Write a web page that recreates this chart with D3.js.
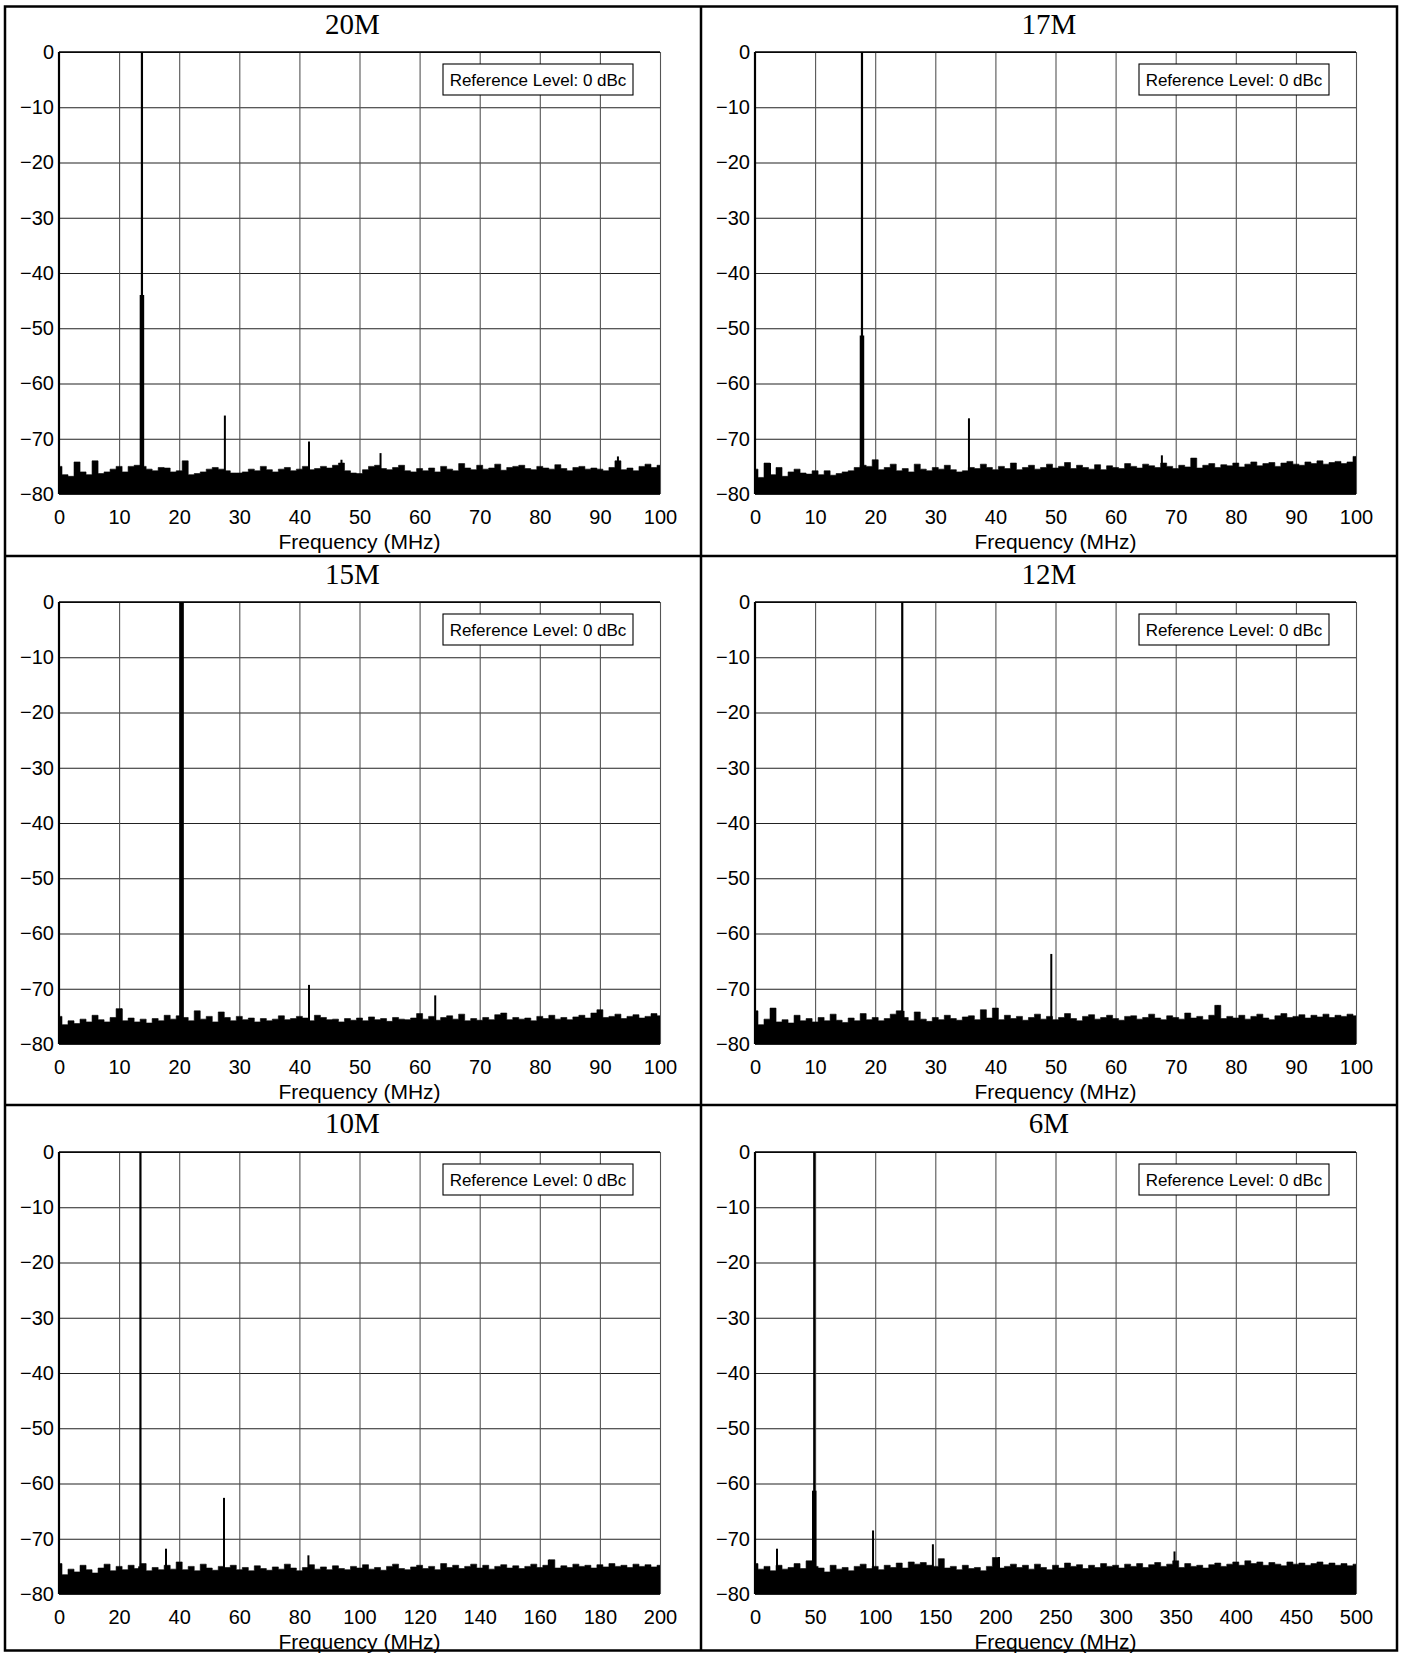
<!DOCTYPE html>
<html><head><meta charset="utf-8">
<script src="https://cdn.jsdelivr.net/npm/d3@7"></script>
<style>body{margin:0;background:#fff}svg{display:block}</style>
</head><body><svg id="c" width="1403" height="1656"></svg>
<script>
// ---------------- data ----------------
const titles = ["20M", "17M", "15M", "12M", "10M", "6M"];
const freqMax = [100, 100, 100, 100, 200, 500];
const freqTickStep = [10, 10, 10, 10, 20, 50];
const dbTicks = [0, -10, -20, -30, -40, -50, -60, -70, -80];
const noiseBinMHz = [1, 1, 1, 1, 2, 5];
const legendText = "Reference Level: 0 dBc";
const axisTitle = "Frequency (MHz)";

// noise-floor envelope (dBc), one value per bin
const noise20M = [-75,-76.5,-76.8,-74.2,-76,-76.5,-74,-76.3,-76,-75.5,-75,-76,-75,-74.8,-75,-75.5,-75.8,-75.2,-75.3,-76,-75.8,-74,-76.5,-76.3,-76,-75.5,-75.2,-75.5,-75.8,-76.2,-76.2,-76,-75.5,-75.8,-75,-75.6,-76,-75.5,-75.2,-75.8,-75.5,-75,-75.6,-75.4,-75,-75.3,-74.8,-74.4,-75.8,-76.2,-76.3,-75.6,-75,-74.8,-75.4,-75.6,-75.2,-74.8,-75.8,-76,-75.4,-75.8,-75.3,-76,-75,-75.5,-75.8,-74.5,-75.3,-75.6,-74.8,-75.5,-75.3,-74.6,-75.7,-75.2,-75,-74.8,-75.4,-75.6,-75,-75.3,-75.5,-74.7,-75.4,-75.8,-75.2,-75,-75.5,-75.3,-75.5,-75.8,-75.2,-74,-75.6,-75.3,-75.8,-75,-74.6,-75.2,-74.8];
const noise17M = [-75.5,-77,-74.4,-76.5,-75.2,-76.8,-76,-75.5,-76.2,-76.4,-75.8,-76.5,-75.8,-76.6,-76.3,-76,-75.8,-75.2,-74.8,-75,-73.8,-75.6,-75.2,-74.6,-75.8,-75.4,-76,-74.6,-75.5,-75.8,-75.2,-75.5,-74.8,-75.6,-76,-75.8,-75.2,-75.4,-74.6,-75.2,-75.6,-75,-75.4,-74.4,-75.6,-75.2,-74.8,-75.5,-75.2,-74.6,-75.3,-75,-74.3,-75.4,-74.8,-75.2,-75.5,-74.7,-75.6,-74.9,-75.2,-75.4,-74.5,-75,-75.3,-74.6,-74.9,-75.2,-74.4,-75,-75.4,-74.8,-75.1,-73.5,-75.3,-74.8,-74.5,-75.2,-74.7,-74.9,-74.4,-75.1,-74.6,-74.2,-74.9,-74.5,-74.3,-75,-74.4,-74.1,-74.6,-74.8,-74.2,-74.5,-74,-74.6,-74.3,-74.1,-74.5,-74.2,-73.2];
const noise15M = [-75,-76.5,-75.8,-76.3,-75.5,-76,-74.8,-75.6,-76,-75.2,-73.6,-75.8,-75.3,-76,-75.5,-76.2,-75.4,-75.8,-74.8,-75.5,-74.9,-75.2,-75.8,-74,-75.5,-75,-76,-74.2,-75.2,-75.8,-75,-75.6,-75.3,-76,-75.4,-75.8,-75.5,-74.9,-75.6,-75.4,-75,-75.3,-75.8,-74.8,-75.2,-75.6,-75.5,-76,-75.4,-75.7,-75.3,-75.8,-75.1,-75.6,-75.4,-75.9,-75.2,-75.5,-75.6,-75.3,-74.5,-75.5,-75,-75.7,-75.2,-74.9,-75.5,-74.6,-75.8,-75.4,-75.7,-75.2,-75.6,-74.7,-74.4,-75.6,-75.2,-75.5,-75.3,-75.8,-75,-75.4,-74.8,-75.5,-75.2,-75.6,-75.1,-74.8,-75.3,-74.4,-73.8,-75.2,-75,-74.6,-75.4,-75,-74.7,-75.3,-75,-74.5,-74.9];
const noise12M = [-74,-76.5,-75.5,-73.5,-76,-75.6,-76.2,-74.8,-75.8,-75.4,-76,-75.2,-75.8,-74.6,-75.7,-76.1,-75.3,-75.8,-74.5,-75.6,-75.2,-75.8,-75.4,-74.6,-74,-75.2,-75.8,-74.2,-75.5,-75.9,-75.2,-75.6,-74.8,-75.4,-75.7,-75.1,-74.9,-75.6,-73.8,-75.3,-73.5,-75.6,-74.8,-75.4,-75,-75.7,-75.2,-74.6,-75.5,-75,-75.6,-75.2,-74.5,-75.4,-75.8,-75,-74.7,-75.5,-75.2,-74.8,-75.4,-75.7,-75,-74.9,-75.5,-75.2,-74.6,-75.3,-75.6,-74.9,-75.2,-75.5,-74.4,-75.3,-75,-75.6,-74.8,-73,-75.4,-75,-75.3,-74.8,-75.5,-75,-74.6,-75.3,-75.6,-74.9,-74.5,-75.2,-75,-74.7,-75.3,-74.8,-75.1,-74.6,-75.2,-74.8,-75,-74.6,-74.9];
const noise10M = [-74.5,-76.5,-75.5,-76,-74.8,-75.6,-76.2,-75.3,-74.6,-75.8,-75,-75.6,-74.8,-75.4,-74.5,-75.8,-75.2,-75.6,-74.8,-75.5,-74.2,-75.6,-75,-75.8,-74.6,-75.3,-75.7,-75,-75.2,-74.8,-75.6,-75.2,-75.8,-74.9,-75.4,-75.7,-75.1,-75.5,-74.6,-75.3,-75.8,-75.2,-74.7,-75.5,-75.1,-75.6,-74.9,-75.4,-75.6,-75,-75.3,-74.7,-75.5,-75.2,-75.7,-75,-74.6,-75.4,-75.6,-75.1,-74.8,-75.4,-75,-75.6,-74.5,-75.2,-74.8,-75.4,-75,-74.6,-75.3,-74.8,-75.5,-75,-74.7,-75.3,-74.9,-75.4,-75,-74.6,-75.2,-74.8,-73.8,-75.3,-74.9,-75.2,-74.6,-75,-74.8,-75.3,-74.7,-75.1,-74.5,-75,-74.8,-75.2,-74.6,-75,-74.7,-75.1,-74.8];
const noise6M = [-74.5,-75.5,-75,-75.8,-74.8,-75.5,-75.2,-74.5,-75.4,-74,-75,-75.3,-76,-74.8,-75.5,-75.2,-75.8,-75,-74.6,-75.4,-75,-75.6,-74.8,-75.2,-74.4,-75.3,-74.2,-74.6,-74.3,-74.8,-75,-73.6,-75.3,-75,-75.6,-74.8,-75.4,-75.2,-75.8,-75,-73.4,-75.3,-75,-74.6,-75.2,-74.8,-75.5,-74.6,-75.2,-75.6,-74.8,-75.3,-74.4,-75,-74.7,-75.4,-74.8,-75.2,-74.5,-75,-74.8,-75.3,-74.6,-75,-74.5,-75.2,-74.7,-74.3,-75,-74.6,-74,-75.2,-74.5,-75,-74.8,-75.3,-74.7,-74.4,-75,-74.6,-74.2,-74.8,-74,-74.5,-74.2,-74.8,-74.3,-74.6,-74.9,-74.2,-74.6,-74.4,-74.8,-74.5,-74.2,-74.7,-74.4,-74.8,-74.5,-74.9,-74.6];
const noiseSeries = [noise20M, noise17M, noise15M, noise12M, noise10M, noise6M];

// carrier (fundamental): frequency (MHz), peak (dBc), level up to which the trace is wide (dBc)
const carrierFreq = [13.8, 17.8, 20.4, 24.5, 27.1, 49.3];
const carrierPeak = [0, 0, 0, 0, 0, 0];
const carrierWideTo = [-44, -51.3, 0, -74, -75, -61.3];

// spurs / harmonics: [frequency MHz, level dBc]
const spurs20M = [[0, -68], [27.6, -65.8], [41.6, -70.5], [53.5, -72.6], [93, -73.2], [47, -73.8]];
const spurs17M = [[0, -68], [35.6, -66.3], [2.5, -74.4], [67.7, -73]];
const spurs15M = [[0, -64], [41.6, -69.3], [62.6, -71.2], [10.4, -73.6], [89.8, -74]];
const spurs12M = [[0, -62], [49.3, -63.7], [77, -73], [40, -73.5]];
const spurs10M = [[0, -68], [54.9, -62.6], [35.6, -71.8], [83, -73], [163, -73.8]];
const spurs6M = [[0, -60], [98.2, -68.5], [148, -71], [18.3, -71.8], [349, -72.3], [203, -73.3]];
const spurSeries = [spurs20M, spurs17M, spurs15M, spurs12M, spurs10M, spurs6M];

// ---------------- drawing ----------------
const svg = d3.select("#c");
svg.append("rect").attr("width", 1403).attr("height", 1656).attr("fill", "#fff");

const plotW = 601, plotH = 442;
const colPlotLeft = [59, 755];
const rowPlotTop = [52, 602, 1152];
const colCenter = [352.5, 1049];
const rowTop = [6, 556, 1105];
const sans = "Liberation Sans, Arial, sans-serif";

titles.forEach((title, i) => {
  const col = i % 2, row = Math.floor(i / 2);
  const L = colPlotLeft[col], T = rowPlotTop[row];
  const x = d3.scaleLinear().domain([0, freqMax[i]]).range([L, L + plotW]);
  const y = d3.scaleLinear().domain([-80, 0]).range([T + plotH, T]);
  const xTicks = d3.range(0, freqMax[i] + 0.001, freqTickStep[i]);
  const g = svg.append("g");

  // title
  svg.append("text").attr("x", colCenter[col]).attr("y", rowTop[row] + 28)
    .attr("text-anchor", "middle").attr("font-family", "Liberation Serif, Times New Roman, serif")
    .attr("font-size", 29).attr("fill", "#000").text(title);

  // horizontal grid + y labels
  const ya = g.append("g").attr("transform", `translate(${L},0)`)
    .call(d3.axisLeft(y).tickValues(dbTicks).tickSize(-plotW).tickPadding(5));
  ya.select(".domain").remove();
  ya.selectAll(".tick line").attr("stroke", "#222").attr("stroke-width", 1.1);
  ya.selectAll(".tick text").attr("font-family", sans)
    .attr("font-size", 20).attr("fill", "#000");

  // vertical grid + x labels
  const xa = g.append("g").attr("transform", `translate(0,${T + plotH})`)
    .call(d3.axisBottom(x).tickValues(xTicks).tickSize(-plotH).tickPadding(16));
  xa.select(".domain").remove();
  xa.selectAll(".tick line").attr("stroke", d => d === 0 ? "none" : "#555").attr("stroke-width", 1.1);
  xa.selectAll(".tick text").attr("font-family", sans)
    .attr("font-size", 20).attr("fill", "#000");

  // axis title
  g.append("text").attr("x", L + plotW / 2).attr("y", T + plotH + 55)
    .attr("text-anchor", "middle").attr("font-family", sans)
    .attr("font-size", 21).attr("fill", "#000").text(axisTitle);

  // trace
  const clipId = "clip" + i;
  svg.append("clipPath").attr("id", clipId).append("rect")
    .attr("x", L).attr("y", T).attr("width", plotW).attr("height", plotH);
  const tr = g.append("g").attr("clip-path", `url(#${clipId})`);
  const step = noiseBinMHz[i];
  const area = d3.area()
    .curve(d3.curveStep)
    .x((d, j) => x(j * step))
    .y0(y(-80)).y1(d => y(d));
  tr.append("path").datum(noiseSeries[i]).attr("d", area).attr("fill", "#000")
    .attr("stroke", "#000").attr("stroke-width", 0.6);

  tr.selectAll("line.spur").data(spurSeries[i]).join("line")
    .attr("x1", d => x(d[0])).attr("x2", d => x(d[0]))
    .attr("y1", y(-80)).attr("y2", d => y(d[1]))
    .attr("stroke", "#000").attr("stroke-width", 2);

  const cf = carrierFreq[i];
  tr.append("line").attr("x1", x(cf)).attr("x2", x(cf))
    .attr("y1", y(-80)).attr("y2", y(carrierPeak[i]))
    .attr("stroke", "#000").attr("stroke-width", 2.2);
  tr.append("line").attr("x1", x(cf)).attr("x2", x(cf))
    .attr("y1", y(-80)).attr("y2", y(carrierWideTo[i]))
    .attr("stroke", "#000").attr("stroke-width", 4.5);

  // plot frame: top and left
  g.append("line").attr("x1", L).attr("x2", L + plotW).attr("y1", T).attr("y2", T)
    .attr("stroke", "#000").attr("stroke-width", 1.6);
  g.append("line").attr("x1", L).attr("x2", L).attr("y1", T).attr("y2", T + plotH)
    .attr("stroke", "#000").attr("stroke-width", 2.2);

  // legend box
  const bw = 190, bh = 31, bx = L + plotW - 27 - bw, by = T + 12;
  g.append("rect").attr("x", bx).attr("y", by).attr("width", bw).attr("height", bh)
    .attr("fill", "#fff").attr("stroke", "#000").attr("stroke-width", 1.1);
  g.append("text").attr("x", bx + bw / 2).attr("y", by + bh / 2 + 6)
    .attr("text-anchor", "middle").attr("font-family", sans)
    .attr("font-size", 17).attr("fill", "#000").text(legendText);
});

// outer frame and dividers
svg.append("rect").attr("x", 5).attr("y", 6.5).attr("width", 1392).attr("height", 1644)
  .attr("fill", "none").attr("stroke", "#000").attr("stroke-width", 2.5);
svg.append("line").attr("x1", 701).attr("x2", 701).attr("y1", 6).attr("y2", 1651)
  .attr("stroke", "#000").attr("stroke-width", 2.5);
[556, 1105].forEach(yy => svg.append("line").attr("x1", 5).attr("x2", 1397)
  .attr("y1", yy).attr("y2", yy).attr("stroke", "#000").attr("stroke-width", 2.5));
</script>
</body></html>
